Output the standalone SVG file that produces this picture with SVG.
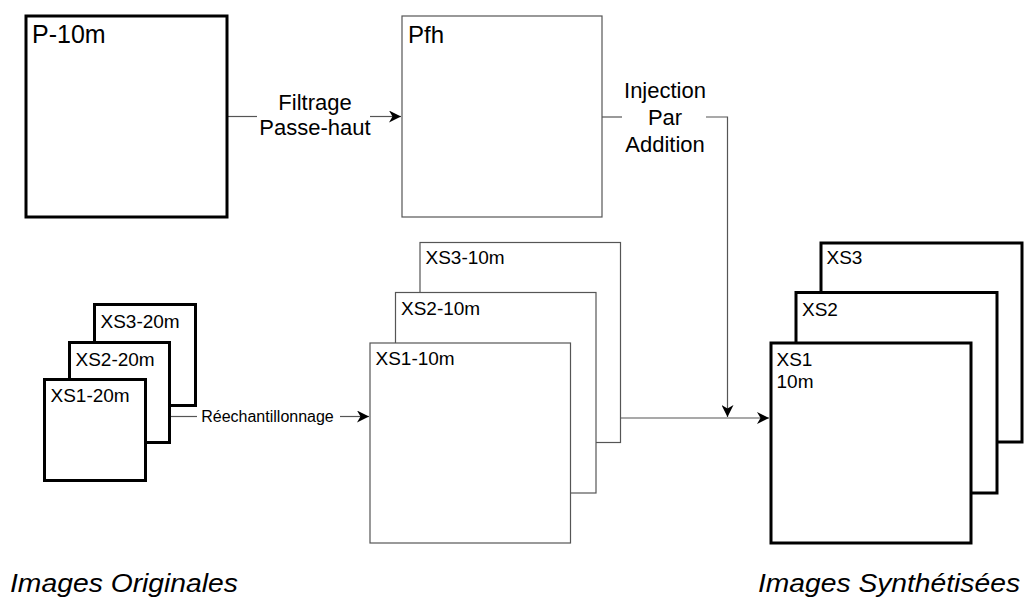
<svg xmlns="http://www.w3.org/2000/svg" width="1024" height="599" viewBox="0 0 1024 599">
<style>
text{font-family:"Liberation Sans",Arial,sans-serif;fill:#000}
.thick{fill:#fff;stroke:#000;stroke-width:3}
.thin{fill:#fff;stroke:#555;stroke-width:1.2}
.conn{fill:none;stroke:#555;stroke-width:1.2}
.lbl{font-size:22px;text-anchor:middle}
.cap{font-size:26px;font-style:italic}
</style>
<defs>
<marker id="arr" viewBox="0 0 12 12" refX="12" refY="6" markerWidth="12" markerHeight="12" markerUnits="userSpaceOnUse" orient="auto">
<path d="M0,0 L12,6 L0,12 L3.5,6 Z" fill="#000"/>
</marker>
</defs>
<rect width="1024" height="599" fill="#fff"/>

<g id="connectors">
<path class="conn" d="M227,116.5 H257"/>
<path class="conn" d="M370,116.5 H401" marker-end="url(#arr)"/>
<path class="conn" d="M602,117 H622"/>
<path class="conn" d="M706,117 H727.5 V417" marker-end="url(#arr)"/>
<path class="conn" d="M171,416.5 H197"/>
<path class="conn" d="M340,416.5 H369" marker-end="url(#arr)"/>
<path class="conn" d="M621,418 H769" marker-end="url(#arr)"/>
<text class="lbl" x="315" y="110">Filtrage</text>
<text class="lbl" x="315" y="135">Passe-haut</text>
<text class="lbl" x="665" y="98" font-size="23">Injection</text>
<text class="lbl" x="665" y="125" font-size="23">Par</text>
<text class="lbl" x="665" y="152" font-size="23">Addition</text>
<text x="267.5" y="422" font-size="16" text-anchor="middle">Réechantillonnage</text>
</g>

<g id="p10m">
<rect class="thick" x="26" y="16" width="201" height="201"/>
<text x="32" y="43" font-size="25">P-10m</text>
</g>

<g id="pfh">
<rect class="thin" x="402" y="16" width="200" height="201"/>
<text x="408" y="43" font-size="24">Pfh</text>
</g>

<g id="xs3-20m">
<rect class="thick" x="94.5" y="304.5" width="101" height="101"/>
<text x="100.5" y="327.5" font-size="19">XS3-20m</text>
</g>
<g id="xs2-20m">
<rect class="thick" x="69.5" y="342.5" width="100" height="100"/>
<text x="75.5" y="365.5" font-size="19">XS2-20m</text>
</g>
<g id="xs1-20m">
<rect class="thick" x="44.5" y="379.5" width="101" height="101"/>
<text x="50.5" y="401.5" font-size="19">XS1-20m</text>
</g>

<g id="xs3-10m">
<rect class="thin" x="420" y="242.5" width="200.5" height="200"/>
<text x="425.5" y="264" font-size="19">XS3-10m</text>
</g>
<g id="xs2-10m">
<rect class="thin" x="395.5" y="292.5" width="200.5" height="200.5"/>
<text x="401" y="315" font-size="19">XS2-10m</text>
</g>
<g id="xs1-10m">
<rect class="thin" x="370" y="343" width="200.5" height="200"/>
<text x="375.5" y="365" font-size="19">XS1-10m</text>
</g>

<g id="xs3">
<rect class="thick" x="821" y="243" width="201" height="199"/>
<text x="826.5" y="264" font-size="19">XS3</text>
</g>
<g id="xs2">
<rect class="thick" x="796" y="292.5" width="201" height="200.5"/>
<text x="802" y="316" font-size="19">XS2</text>
</g>
<g id="xs1">
<rect class="thick" x="771" y="343" width="200" height="200"/>
<text x="776.5" y="366" font-size="19">XS1</text>
<text x="776.5" y="388" font-size="19">10m</text>
</g>

<g id="captions">
<text class="cap" x="10" y="592" textLength="228" lengthAdjust="spacingAndGlyphs">Images Originales</text>
<text class="cap" x="758" y="592" textLength="262" lengthAdjust="spacingAndGlyphs">Images Synthétisées</text>
</g>
</svg>
